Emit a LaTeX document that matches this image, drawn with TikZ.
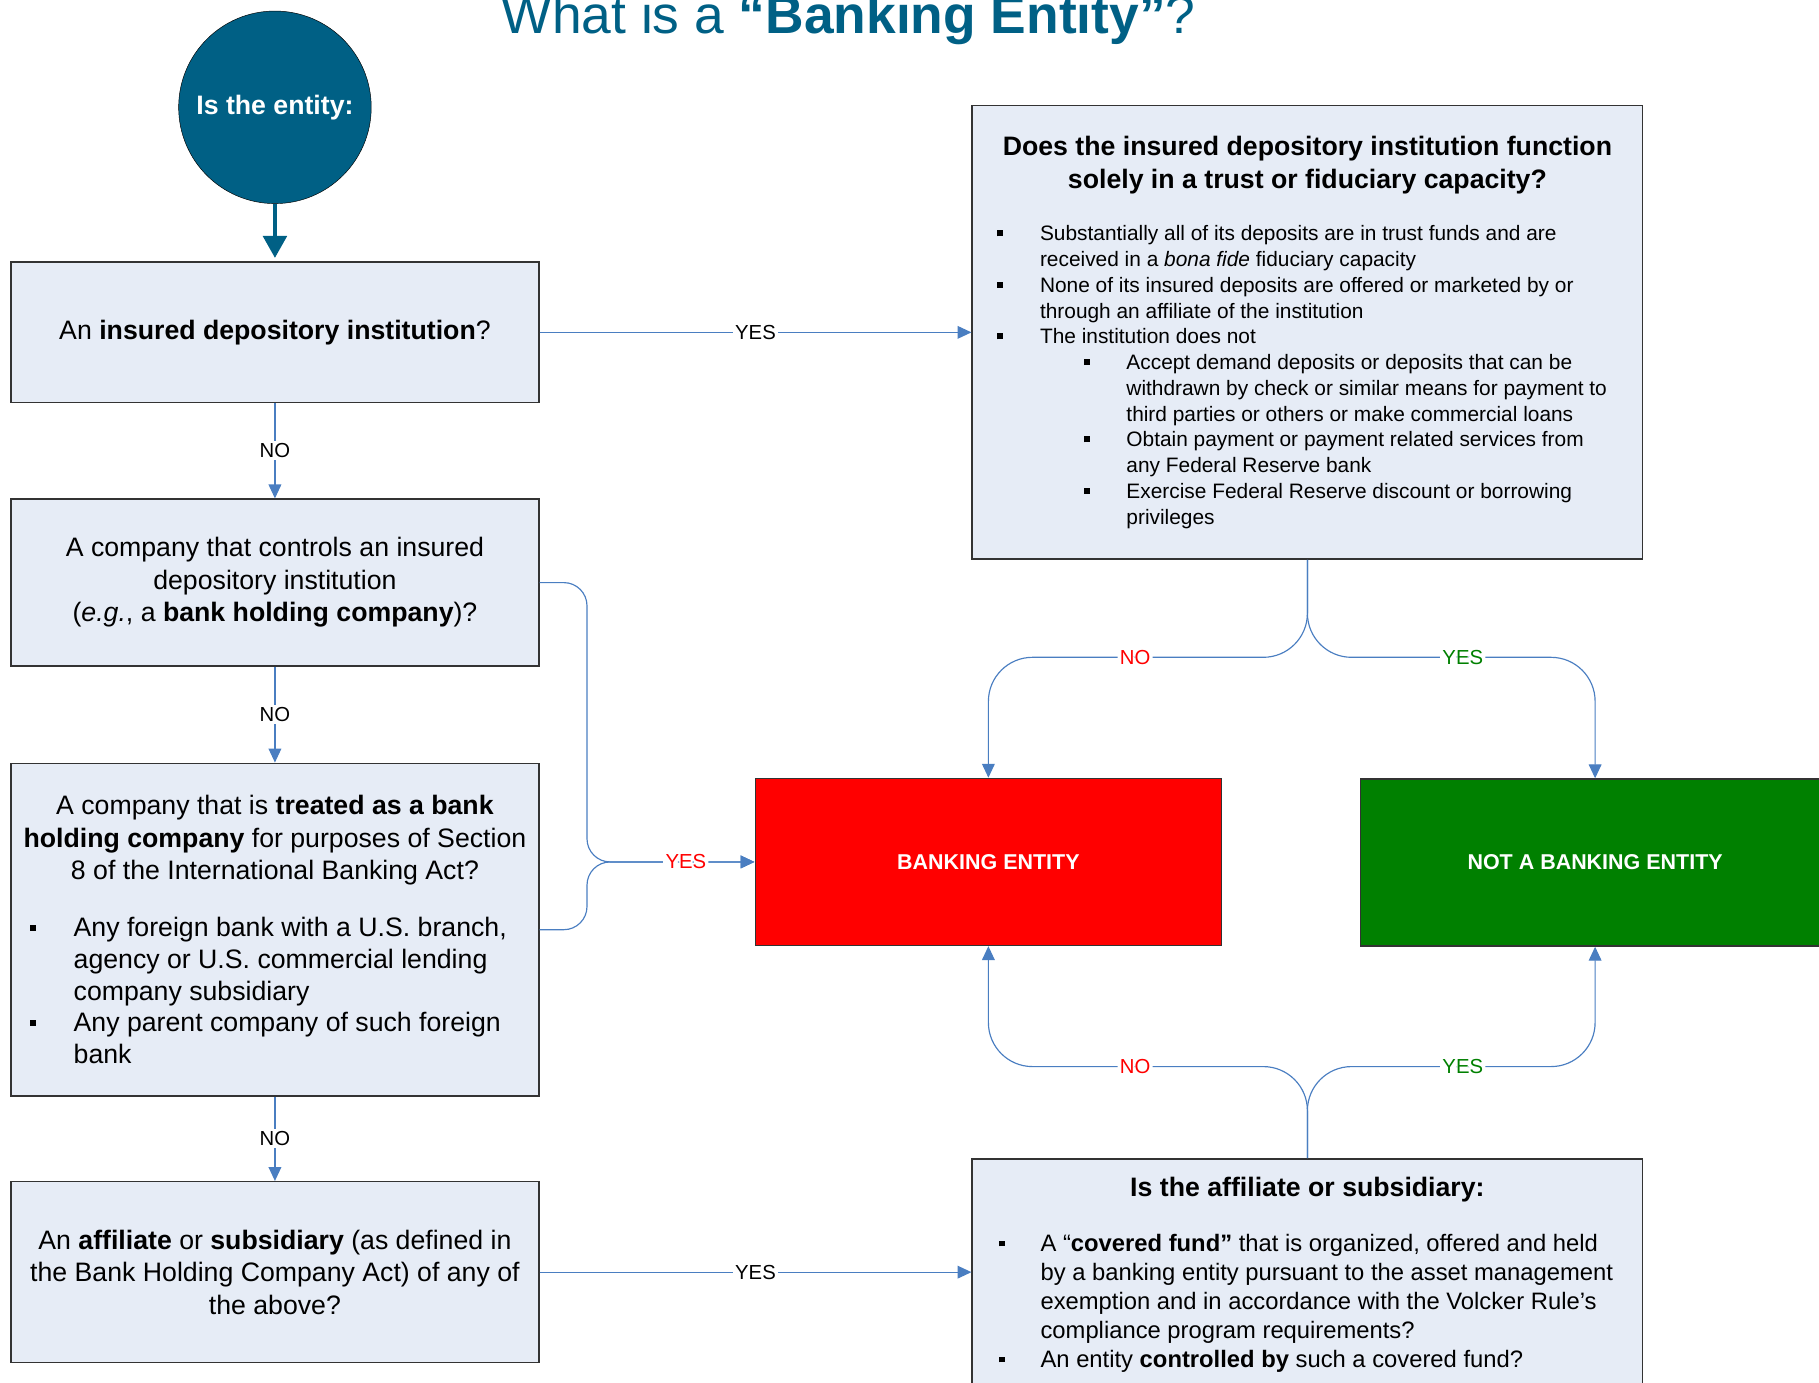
\documentclass[tikz,border=0pt]{standalone}
\usepackage{fontspec}
\setmainfont{Liberation Sans}
\usepackage{tikz}
\usetikzlibrary{shapes.geometric, arrows.meta}
\usetikzlibrary{positioning}
\definecolor{entityblue}{RGB}{0,96,133}
\definecolor{qfill}{RGB}{230,236,246}
\definecolor{linkblue}{RGB}{74,126,193}
\definecolor{okgreen}{RGB}{0,128,0}
\newcommand{\natsp}{\spaceskip=\fontdimen2\font\relax\xspaceskip=0pt\relax}
\tikzstyle{entity} = [circle, minimum size=166pt, draw=black, fill=entityblue, text=white,
font=\fontsize{23}{28}\selectfont\bfseries]
\tikzstyle{question} = [rectangle, minimum width=455pt, text width=455pt, inner xsep=0pt,
align=center, draw=black!80, line width=1.2pt, fill=qfill, font=\fontsize{23}{28}\selectfont,
execute at begin node={\natsp}]
\tikzstyle{detail} = [rectangle, minimum width=578pt, text width=578pt, inner xsep=0pt,
align=left, draw=black!80, line width=1.2pt, fill=qfill,
execute at begin node={\spaceskip=0pt\relax\xspaceskip=0pt\relax}]
\tikzstyle{result} = [rectangle, minimum width=402pt, minimum height=144pt, draw=black!80,
line width=1.2pt, text=white, font=\fontsize{18.5}{22}\selectfont\bfseries]
\tikzstyle{arrow} = [draw=linkblue, line width=1pt, -{Triangle[length=12pt, width=11pt]}]
\tikzstyle{answer} = [fill=white, inner sep=2pt, font=\fontsize{17.5}{20}\selectfont]
\newcommand{\sqbullet}{\raisebox{0.22em}{\rule{5pt}{5pt}}}
\newcommand{\bitem}[3]{\par\hangindent=\dimexpr#1+#2\relax\hangafter=1\noindent
\hspace*{#1}\makebox[#2][l]{\sqbullet}#3\par}

\begin{document}
\begin{tikzpicture}[x=1pt, y=-1pt, node distance=83pt]
  \useasboundingbox (0,0) rectangle (1568,1192);
  \node (title) [anchor=base, text=entityblue, font=\fontsize{46}{50}\selectfont] at (731.5,29)
  {What is a \textbf{“Banking Entity”}?};

  \node (entity) [entity] at (237,92.5) {Is the entity:};
  \node (insured) [question, minimum height=121pt] at (237,286.5)
  {An \textbf{insured depository institution}?};
  \node (holding) [question, minimum height=144pt, below=82pt of insured]
  {A company that controls an insured\\ depository institution\\
  (\textit{e.g.}, a \textbf{bank holding company})?};
  \node (treated) [question, minimum height=287pt, below=82.5pt of holding]
  {A company that is \textbf{treated as a bank}\\ \textbf{holding company} for purposes of Section\\
  8 of the International Banking Act?\par\vspace{21.7pt}
  \raggedright\fontsize{23}{27.3}\selectfont\natsp
  \bitem{16.5pt}{37.5pt}{Any foreign bank with a U.S. branch,\newline agency or U.S. commercial lending\newline
  company subsidiary}
  \bitem{16.5pt}{37.5pt}{Any parent company of such foreign\newline bank}};
  \node (affiliate) [question, minimum height=156pt, below=72.5pt of treated]
  {An \textbf{affiliate} or \textbf{subsidiary} (as defined in\\ the Bank Holding Company Act) of any of\\
  the above?};

  \node (trustq) [detail, minimum height=391pt] at (1127,286.5)
  {{\centering\bfseries\fontsize{23}{28}\selectfont Does the insured depository institution function\\
  solely in a trust or fiduciary capacity?\par}
  \vspace{23.3pt}
  \fontsize{18}{22.2}\selectfont
  \bitem{21.5pt}{37pt}{Substantially all of its deposits are in trust funds and are\newline
  received in a \textit{bona fide} fiduciary capacity}
  \bitem{21.5pt}{37pt}{None of its insured deposits are offered or marketed by or\newline
  through an affiliate of the institution}
  \bitem{21.5pt}{37pt}{The institution does not}
  \bitem{96.5pt}{36.5pt}{Accept demand deposits or deposits that can be\newline
  withdrawn by check or similar means for payment to\newline third parties or others or make commercial loans}
  \bitem{96.5pt}{36.5pt}{Obtain payment or payment related services from\newline any Federal Reserve bank}
  \bitem{96.5pt}{36.5pt}{Exercise Federal Reserve discount or borrowing\newline privileges}};

  \node (fundq) [detail, minimum height=200pt] at (1127,1099)
  {{\centering\bfseries\fontsize{23}{28}\selectfont Is the affiliate or subsidiary:\par}
  \vspace{22.5pt}
  \fontsize{20.5}{25}\selectfont
  \bitem{23pt}{36pt}{A “\textbf{covered fund”} that is organized, offered and held\newline
  by a banking entity pursuant to the asset management\newline
  exemption and in accordance with the Volcker Rule’s\newline compliance program requirements?}
  \bitem{23pt}{36pt}{An entity \textbf{controlled by} such a covered fund?}};

  \node (bank) [result, fill=red] at (852,743) {BANKING ENTITY};
  \node (notbank) [result, fill=okgreen, minimum width=404pt] at (1375,743.5) {NOT A BANKING ENTITY};
  \coordinate (join) at (506,743);

  \draw[line width=4pt, draw=entityblue, -{Triangle[length=19pt, width=20pt]}, shorten >=3pt]
  (entity) -- (insured);
  \draw[arrow] (insured) -- node [answer] {NO} (holding);
  \draw[arrow] (holding) -- node [answer] {NO} (treated);
  \draw[arrow] (treated) -- node [answer] {NO} (affiliate);
  \draw[arrow] (insured) -- node [answer] {YES} (trustq);
  \draw[arrow] (affiliate.east) -- node [answer] {YES} (affiliate.east -| fundq.west);

  \draw[arrow] (treated.east) [rounded corners=20pt] -| (join) [rounded corners=36pt] -- (bank.west);
  \draw[arrow] (holding.east) [rounded corners=20pt] -| (join) [rounded corners=36pt] --
  node [answer, text=red, pos=0.59] {YES} (bank.west);

  \draw[arrow, rounded corners=38pt] (trustq.south) -- ++(0,84) -|
  node [answer, text=red, pos=0.27] {NO} (bank.north);
  \draw[arrow, rounded corners=38pt] (trustq.south) -- ++(0,84) -|
  node [answer, text=okgreen, pos=0.27] {YES} (notbank.north);
  \draw[arrow, rounded corners=38pt] (fundq.north) -- ++(0,-79) -|
  node [answer, text=red, pos=0.27] {NO} (bank.south);
  \draw[arrow, rounded corners=38pt] (fundq.north) -- ++(0,-79) -|
  node [answer, text=okgreen, pos=0.27] {YES} (notbank.south);
\end{tikzpicture}
\end{document}
